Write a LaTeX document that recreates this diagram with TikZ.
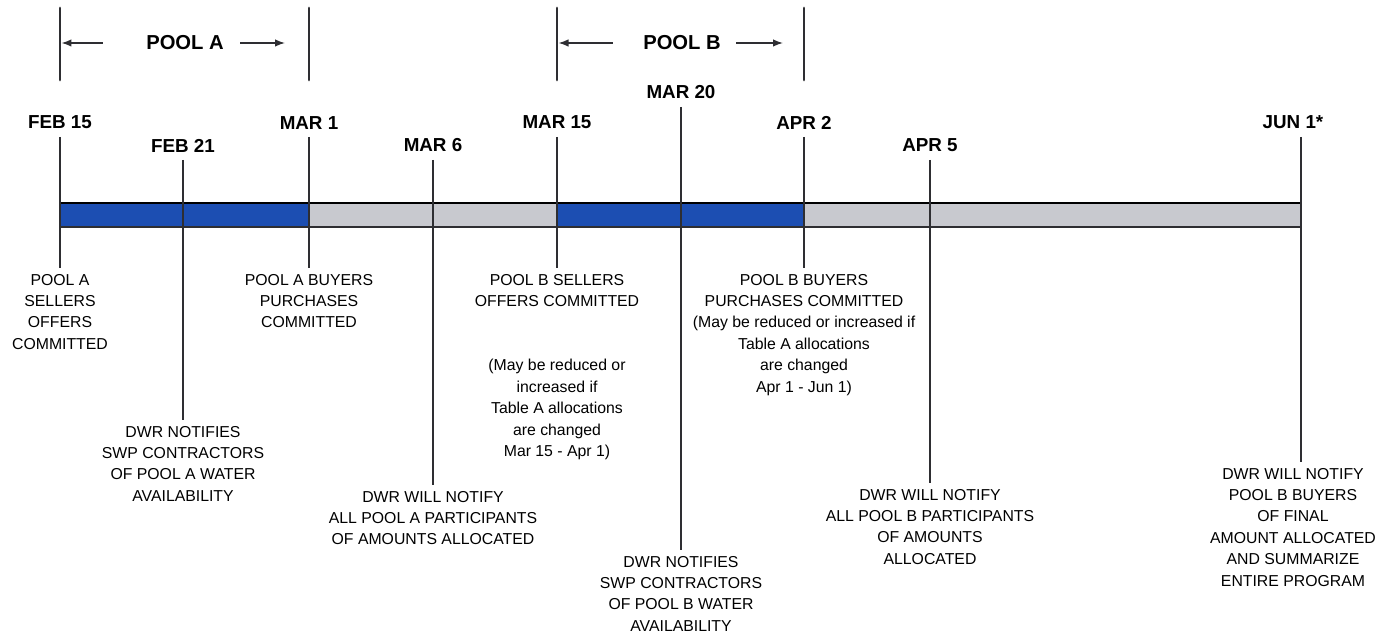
\documentclass[tikz,border=0pt]{standalone}
\usepackage{fontspec}
\setmainfont{Liberation Sans}
\usetikzlibrary{arrows.meta}
\definecolor{poolBlue}{RGB}{28,78,178}
\definecolor{idleGray}{RGB}{200,201,207}
\definecolor{inkGray}{RGB}{46,46,50}
\tikzstyle{dateLabel}=[font=\fontsize{10.7}{13}\selectfont\bfseries, anchor=south, inner sep=0pt, outer sep=4.5pt]
\tikzstyle{noteLabel}=[font=\fontsize{9}{12.2}\selectfont, align=center, anchor=north, inner sep=0pt, outer sep=3.4pt]

\begin{document}
\begin{tikzpicture}[x=0.02cm, y=-0.02cm]
\tikzstyle{tickLine}=[draw=inkGray, line width=1.3pt]
\tikzstyle{poolMark}=[draw=inkGray, line width=1.6pt, line cap=round]
\tikzstyle{poolArrow}=[draw=inkGray, line width=0.8pt, -{Latex[length=0.2cm,width=0.15cm]}]
\tikzstyle{poolLabel}=[font=\fontsize{11.5}{14}\selectfont\bfseries, inner sep=0pt]
\useasboundingbox (0,0) rectangle (1380,638);
% pool brackets
\coordinate (a0) at (60,8);
\coordinate (a1) at (309,8);
\coordinate (b0) at (557,8);
\coordinate (b1) at (804,8);
\draw[poolMark] (a0) -- ++(0,72);
\draw[poolMark] (a1) -- ++(0,72);
\draw[poolMark] (b0) -- ++(0,72);
\draw[poolMark] (b1) -- ++(0,72);
\node[poolLabel] (pA) at (185,43) {POOL A};
\node[poolLabel] (pB) at (682,43) {POOL B};
\draw[poolArrow, shorten <=0.86cm, shorten >=0.03cm] (pA.west) -- (pA.west -| a0);
\draw[poolArrow, shorten <=0.32cm, shorten >=0.48cm] (pA.east) -- (pA.east -| a1);
\draw[poolArrow, shorten <=0.60cm, shorten >=0.03cm] (pB.west) -- (pB.west -| b0);
\draw[poolArrow, shorten <=0.30cm, shorten >=0.42cm] (pB.east) -- (pB.east -| b1);
% time bar
\fill[poolBlue] (60,204) rectangle (309,226);
\fill[idleGray] (309,204) rectangle (557,226);
\fill[poolBlue] (557,204) rectangle (804,226);
\fill[idleGray] (804,204) rectangle (1301,226);
\draw[black, line width=1.5pt] (60,203) -- (1301,203);
\draw[inkGray, line width=1pt] (60,227) -- (1301,227);
% dates
\node[dateLabel] (d0) at (60,137) {FEB 15};
\node[dateLabel] (d1) at (183,160) {FEB 21};
\node[dateLabel] (d2) at (309,137) {MAR 1};
\node[dateLabel] (d3) at (433,160) {MAR 6};
\node[dateLabel] (d4) at (557,137) {MAR 15};
\node[dateLabel] (d5) at (681,107) {MAR 20};
\node[dateLabel] (d6) at (804,137) {APR 2};
\node[dateLabel] (d7) at (930,160) {APR 5};
\node[dateLabel] (d8) at (1293,137) {JUN 1*};
% notes
\node[noteLabel] (c0) at (60,268) {POOL A\\SELLERS\\OFFERS\\COMMITTED};
\node[noteLabel] (c1) at (183,420) {DWR NOTIFIES\\SWP CONTRACTORS\\OF POOL A WATER\\AVAILABILITY};
\node[noteLabel] (c2) at (309,268) {POOL A BUYERS\\PURCHASES\\COMMITTED};
\node[noteLabel] (c3) at (433,485) {DWR WILL NOTIFY\\ALL POOL A PARTICIPANTS\\OF AMOUNTS ALLOCATED};
\node[noteLabel] (c4) at (557,268) {POOL B SELLERS\\OFFERS COMMITTED\\[24.4pt](May be reduced or\\increased if\\Table A allocations\\are changed\\Mar 15 - Apr 1)};
\node[noteLabel] (c5) at (681,550) {DWR NOTIFIES\\SWP CONTRACTORS\\OF POOL B WATER\\AVAILABILITY};
\node[noteLabel] (c6) at (804,268) {POOL B BUYERS\\PURCHASES COMMITTED\\(May be reduced or increased if\\Table A allocations\\are changed\\Apr 1 - Jun 1)};
\node[noteLabel] (c7) at (930,483) {DWR WILL NOTIFY\\ALL POOL B PARTICIPANTS\\OF AMOUNTS\\ALLOCATED};
\node[noteLabel] (c8) at (1293,462) {DWR WILL NOTIFY\\POOL B BUYERS\\OF FINAL\\AMOUNT ALLOCATED\\AND SUMMARIZE\\ENTIRE PROGRAM};
% ticks
\draw[tickLine] (d0) -- (c0);
\draw[tickLine] (d1) -- (c1);
\draw[tickLine] (d2) -- (c2);
\draw[tickLine] (d3) -- (c3);
\draw[tickLine] (d4) -- (c4);
\draw[tickLine] (d5) -- (c5);
\draw[tickLine] (d6) -- (c6);
\draw[tickLine] (d7) -- (c7);
\draw[tickLine] ([xshift=0.16cm]d8.south) -- ([xshift=0.16cm]c8.north);
\end{tikzpicture}
\end{document}
